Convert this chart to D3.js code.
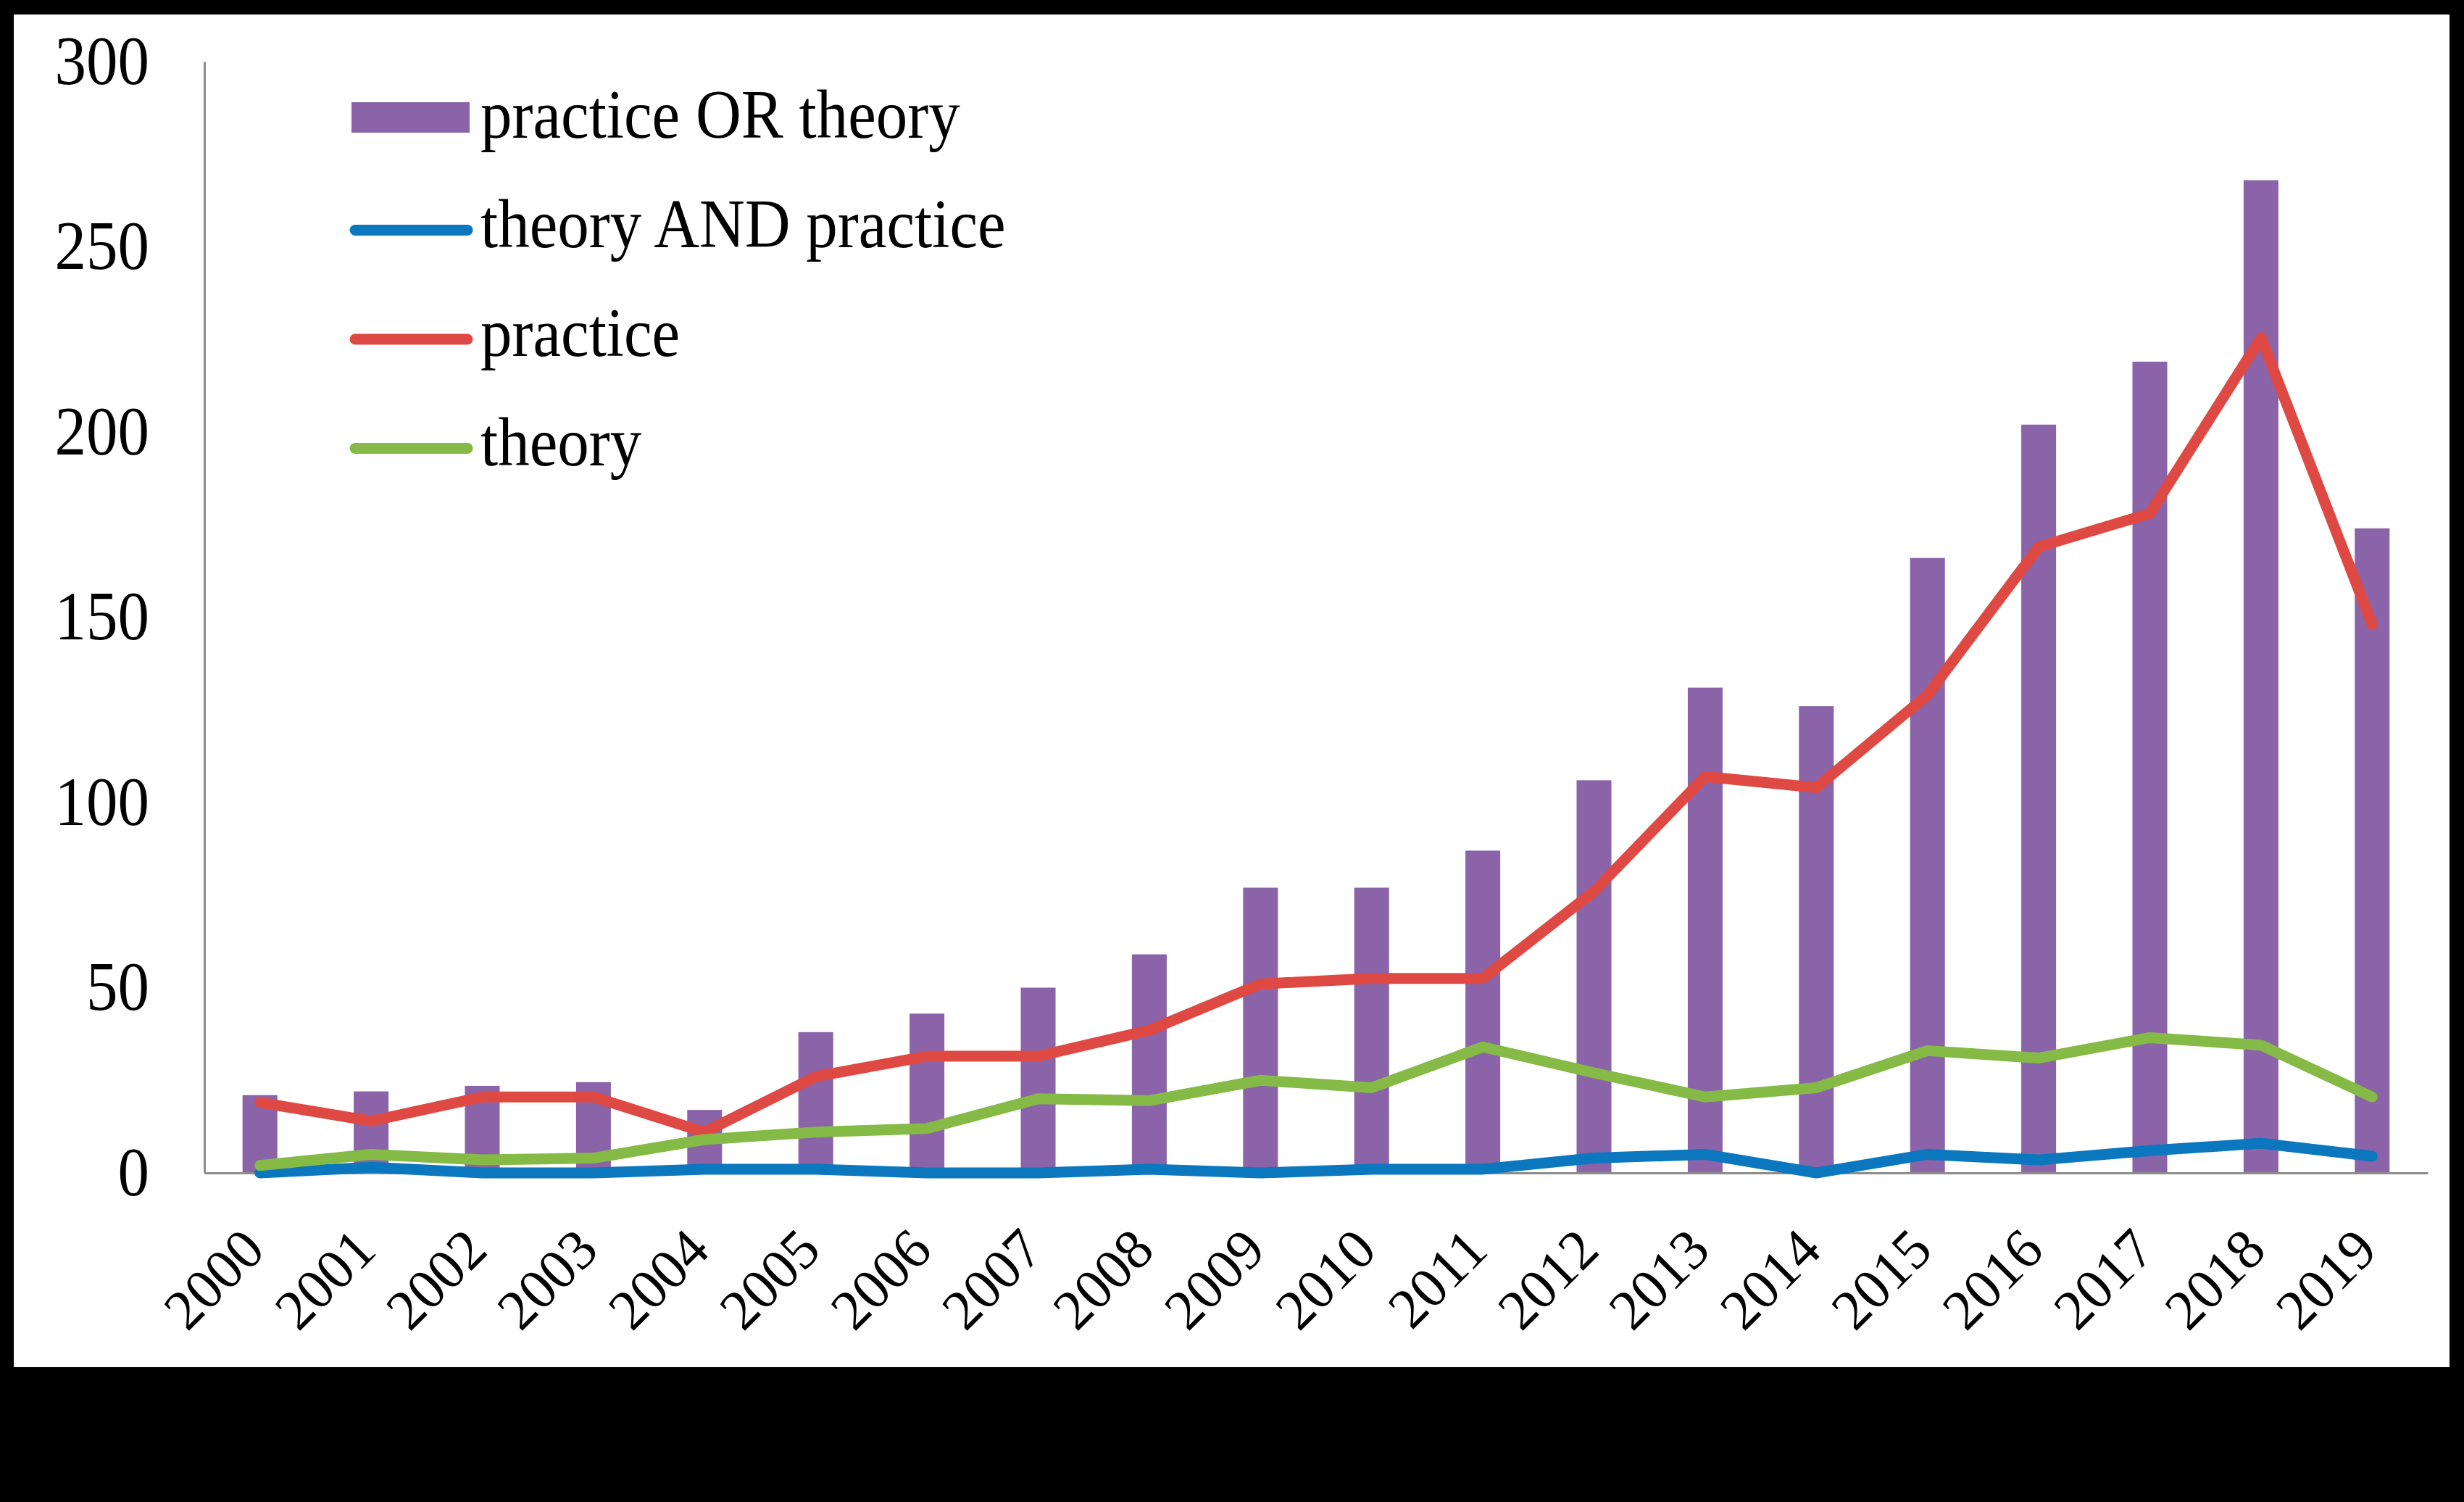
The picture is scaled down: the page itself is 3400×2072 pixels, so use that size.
<!DOCTYPE html>
<html>
<head>
<meta charset="utf-8">
<script src="https://cdn.jsdelivr.net/npm/d3@7"></script>
<style>
  html, body { margin: 0; padding: 0; background: #000; }
  svg { display: block; }
</style>
</head>
<body>
<svg id="chart" width="3400" height="2072"></svg>
<script>
// ---- Data ----
const years = ["2000","2001","2002","2003","2004","2005","2006","2007","2008","2009",
               "2010","2011","2012","2013","2014","2015","2016","2017","2018","2019"];
const practiceOrTheory = [21, 22, 23.5, 24.5, 17, 38, 43, 50, 59, 77, 77, 87, 106, 131, 126, 166, 202, 219, 268, 174];
const theoryAndPractice = [0, 1.5, 0, 0, 1, 1, 0, 0, 1, 0, 1, 1, 4, 5, 0, 5, 3.5, 6, 8, 4.5];
const practice = [19, 14, 20.5, 20.5, 11, 26, 31.5, 31.5, 38.5, 51, 52.5, 52.5, 76, 107, 104, 129, 169, 178, 225.5, 148];
const theory = [2, 5, 3.5, 4, 9, 11, 12, 20, 19.5, 25, 23, 34, 27, 20.5, 23, 33, 31, 36.5, 34.5, 20.5];
const yTicks = [0, 50, 100, 150, 200, 250, 300];
const legendLabels = ["practice OR theory", "theory AND practice", "practice", "theory"];

// ---- Style ----
const C_BAR = "#8a63a8", C_BLUE = "#0b77bf", C_RED = "#de4a43", C_GREEN = "#84ba45";
const AXIS = "#8c8c8c";
const FONT = "'Liberation Serif', 'Times New Roman', serif";

const svg = d3.select("#chart");
svg.append("rect").attr("x", 0).attr("y", 0).attr("width", 3400).attr("height", 2072).attr("fill", "#000");
svg.append("rect").attr("x", 19).attr("y", 20).attr("width", 3361).attr("height", 1866).attr("fill", "#fff");

const x = d3.scaleBand().domain(years).range([282, 3350]).paddingInner(0.687).paddingOuter(0.3435);
const y = d3.scaleLinear().domain([0, 300]).range([1618, 85]);
const cx = d => x(d) + x.bandwidth() / 2;

// Bars
svg.append("g").selectAll("rect").data(years).join("rect")
  .attr("x", d => x(d)).attr("width", x.bandwidth())
  .attr("y", (d, i) => y(practiceOrTheory[i]))
  .attr("height", (d, i) => y(0) - y(practiceOrTheory[i]))
  .attr("fill", C_BAR);

// Axes
const yAxis = svg.append("g").attr("transform", "translate(282,0)")
  .call(d3.axisLeft(y).tickValues(yTicks).tickSize(0).tickSizeOuter(0).tickPadding(76).tickFormat(d3.format("d")));
yAxis.select(".domain").attr("stroke", AXIS).attr("stroke-width", 3);
yAxis.selectAll("text")
  .attr("font-family", FONT).attr("font-size", 87).attr("fill", "#000")
  .attr("transform", "scale(1,1.09)");

const xAxis = svg.append("g").attr("transform", "translate(0,1618)")
  .call(d3.axisBottom(x).tickSize(0).tickSizeOuter(0));
xAxis.select(".domain").attr("stroke", AXIS).attr("stroke-width", 3);
xAxis.selectAll("text")
  .attr("font-family", FONT).attr("font-size", 78).attr("fill", "#000")
  .attr("text-anchor", "end").attr("x", 0).attr("y", 0).attr("dy", 0)
  .attr("transform", "translate(10,110) rotate(-45)");
svg.selectAll(".tick line").remove();

// Lines
const series = [
  { values: theoryAndPractice, color: C_BLUE },
  { values: practice, color: C_RED },
  { values: theory, color: C_GREEN }
];
const line = d3.line().x((d, i) => cx(years[i])).y(d => y(d));
svg.append("g").selectAll("path").data(series).join("path")
  .attr("d", s => line(s.values))
  .attr("fill", "none").attr("stroke", s => s.color)
  .attr("stroke-width", 15).attr("stroke-linejoin", "round").attr("stroke-linecap", "round");

// Legend
const leg = svg.append("g");
const legColors = [C_BAR, C_BLUE, C_RED, C_GREEN];
const baseline0 = 190, rowGap = 150.5;
legendLabels.forEach((lab, i) => {
  const bl = baseline0 + rowGap * i;
  if (i === 0) {
    leg.append("rect").attr("x", 485).attr("y", 141).attr("width", 163).attr("height", 42).attr("fill", legColors[i]);
  } else {
    leg.append("line").attr("x1", 490).attr("x2", 645).attr("y1", bl - 23).attr("y2", bl - 23)
      .attr("stroke", legColors[i]).attr("stroke-width", 15).attr("stroke-linecap", "round");
  }
  leg.append("text").attr("transform", `translate(663,${bl}) scale(1,1.09)`)
    .attr("font-family", FONT).attr("font-size", 87).attr("fill", "#000").text(lab);
});
</script>
</body>
</html>
